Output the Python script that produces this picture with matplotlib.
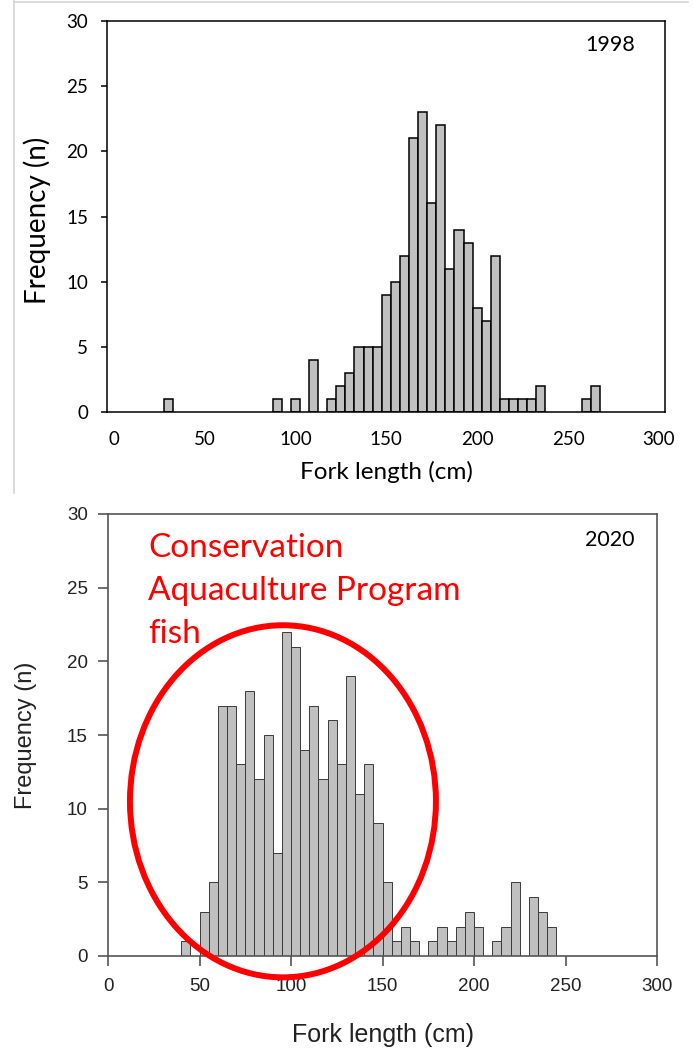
import numpy as np
import matplotlib

matplotlib.use('Agg')

from matplotlib import pyplot as plt
from matplotlib.patches import Ellipse
from matplotlib.lines import Line2D

# 1998 fork-length counts, 5 cm bins (bin centres)
bins_1998 = [30, 90, 100, 110, 120, 125, 130, 135, 140, 145, 150, 155, 160, 165,
             170, 175, 180, 185, 190, 195, 200, 205, 210, 215, 220, 225, 230, 235,
             260, 265]
counts_1998 = [1, 1, 1, 4, 1, 2, 3, 5, 5, 5, 9, 10, 12, 21,
               23, 16, 22, 11, 14, 13, 8, 7, 12, 1, 1, 1, 1, 2,
               1, 2]

# 2020 fork-length counts, 5 cm bins (left edges)
bins_2020 = [40, 50, 55, 60, 65, 70, 75, 80, 85, 90, 95, 100, 105, 110, 115, 120,
             125, 130, 135, 140, 145, 150, 155, 160, 165, 175, 180, 185, 190, 195,
             200, 210, 215, 220, 230, 235, 240]
counts_2020 = [1, 3, 5, 17, 17, 13, 18, 12, 15, 7, 22, 21, 14, 17, 12, 16,
               13, 19, 11, 13, 9, 5, 1, 2, 1, 1, 2, 1, 2, 3,
               2, 1, 2, 5, 4, 3, 2]

x_ticks = [0, 50, 100, 150, 200, 250, 300]
y_ticks = [0, 5, 10, 15, 20, 25, 30]
note_lines = ['Conservation', 'Aquaculture Program', 'fish']

W, H = 694, 1052
fig = plt.figure(figsize=(W / 100, H / 100), dpi=100)
fig.patch.set_facecolor('white')


def px_axes(left, top, right, bottom):
    return fig.add_axes([left / W, 1 - bottom / H, (right - left) / W, (bottom - top) / H])


# ---- 1998 panel ----
cal = 'Lato'
ax1 = px_axes(107, 21, 665, 412)
ax1.bar(bins_1998, counts_1998, width=5, align='center', color='#c0c0c0',
        edgecolor='black', linewidth=1.1, zorder=2)
ax1.set_xlim(-3.6, 303.3)
ax1.set_ylim(0, 30)
ax1.set_xticks(x_ticks)
ax1.set_yticks(y_ticks)
for s in ax1.spines.values():
    s.set_linewidth(1.1)
    s.set_color('black')
ax1.tick_params(axis='x', length=0, pad=14, labelsize=13.5)
ax1.tick_params(axis='y', length=4.5, width=1.1, pad=9, labelsize=13.5)
for lab in ax1.get_xticklabels() + ax1.get_yticklabels():
    lab.set_fontfamily(cal)
ax1.set_xlabel('Fork length (cm)', fontsize=17.5, family=cal)
ax1.set_ylabel('Frequency (n)', fontsize=20, family=cal)
ax1.xaxis.label.set_verticalalignment('center')
ax1.yaxis.label.set_verticalalignment('center')
ax1.xaxis.set_label_coords(0.5, -0.153)
ax1.yaxis.set_label_coords(-0.125, 0.49)
ax1.text(0.901, 0.939, '1998', transform=ax1.transAxes, ha='center', va='center',
         fontsize=15.5, family=cal)

# light frame around the upper panel
fig.add_artist(Line2D([14 / W, 14 / W], [1, 1 - 493 / H], color='#d4d4d4', lw=1.2))
fig.add_artist(Line2D([14 / W, 688 / W], [1 - 1.5 / H, 1 - 1.5 / H], color='#d4d4d4', lw=1.2))

# ---- 2020 panel ----
ari = 'Liberation Sans'
grey = '#555555'
ax2 = px_axes(108, 514, 657, 956)
ax2.bar(bins_2020, counts_2020, width=5, align='edge', color='#c0c0c0',
        edgecolor='#3a3a3a', linewidth=0.7, zorder=2)
ax2.set_xlim(0, 300)
ax2.set_ylim(0, 30)
ax2.set_xticks(x_ticks)
ax2.set_yticks(y_ticks)
for s in ax2.spines.values():
    s.set_linewidth(1.2)
    s.set_color(grey)
ax2.tick_params(axis='both', length=7.5, width=1.2, color=grey, labelcolor='#222222',
                labelsize=13.5)
ax2.tick_params(axis='x', pad=8)
ax2.tick_params(axis='y', pad=7)
for lab in ax2.get_xticklabels() + ax2.get_yticklabels():
    lab.set_fontfamily(ari)
ax2.set_xlabel('Fork length (cm)', fontsize=18, family=ari, color='#222222')
ax2.set_ylabel('Frequency (n)', fontsize=17, family=ari, color='#222222')
ax2.xaxis.label.set_verticalalignment('center')
ax2.yaxis.label.set_verticalalignment('center')
ax2.xaxis.set_label_coords(0.5, -0.179)
ax2.yaxis.set_label_coords(-0.15, 0.5)
ax2.text(0.914, 0.941, '2020', transform=ax2.transAxes, ha='center', va='center',
         fontsize=15.5, family=cal)

# hatchery-fish callout
ax2.add_patch(Ellipse((95.6, 10.5), 167.2, 23.9, fill=False, edgecolor='red',
                      linewidth=4.3, clip_on=False, zorder=5))
for i, line in enumerate(note_lines):
    fig.text(148 / W, 1 - (557 + 43 * i) / H, line, color='red', fontsize=24,
             family=cal, ha='left', va='baseline')

fig.savefig('out.png', dpi=100)
